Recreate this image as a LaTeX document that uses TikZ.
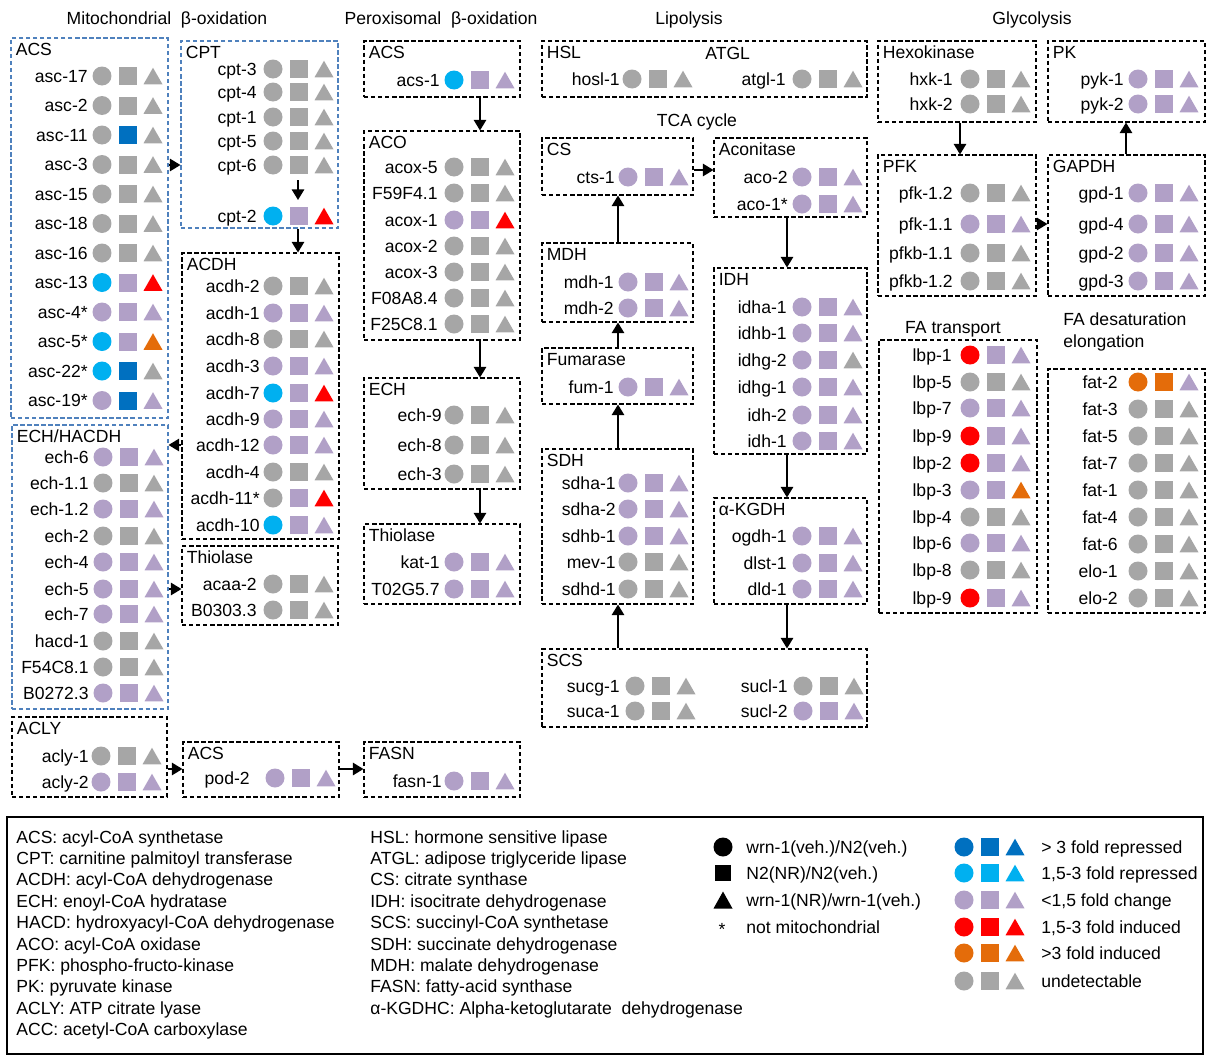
\documentclass[tikz,border=0pt]{standalone}
\usepackage{fontspec}
\setmainfont{Liberation Sans}
\usepackage{tikz}
\usetikzlibrary{arrows.meta, positioning, calc, fit}
\definecolor{gris}{RGB}{166,166,166}
\definecolor{lila}{RGB}{177,160,199}
\definecolor{celeste}{RGB}{0,176,240}
\definecolor{azul}{RGB}{0,112,192}
\definecolor{rojo}{RGB}{255,0,0}
\definecolor{naranja}{RGB}{228,108,10}
\definecolor{azulcaja}{RGB}{79,129,189}
\tikzset{>={Triangle[length=6pt,width=7pt]}}
\tikzset{
  box/.style={draw, dash pattern=on 2.5pt off 1.5pt, line width=0.6pt, inner sep=0pt},
  bluebox/.style={box, draw=azulcaja},
  ttl/.style={anchor=base west, inner sep=0pt},
  glbl/.style={anchor=base east, inner sep=0pt},
  arr/.style={->, line width=1pt},
}
\newcounter{gn}
% symbol columns of a box: circle x, label right end x
\newcommand{\setcol}[2]{\def\symx{#1}\def\labx{#2}}
\newcommand{\symrow}[5]{%
  \begin{scope}[shift={(#1,#2)}]
    \fill[#3] (0,0) circle[radius=0.19cm];
    \fill[#4] (16.5,-9) rectangle (34.5,9);
    \fill[#5] (41.5,8.3) -- (60.5,8.3) -- (51,-8.3) -- cycle;
  \end{scope}}
\newcommand{\gene}[5]{%
  \stepcounter{gn}%
  \node[glbl] (g\arabic{gn}) at (\labx,#1+6) {#2};
  \symrow{\symx}{#1}{#3}{#4}{#5}}
\newcommand{\boxttl}[2]{\node[ttl] (#1-t) at ([shift={(5,18.5)}]#1.north west) {#2};}

\begin{document}
\begin{tikzpicture}[x=0.02cm, y=-0.02cm, font=\fontsize{10}{12.5}\selectfont]
  \useasboundingbox (0,0) rectangle (1210,1055);

  % headers
  \node (hMito) at (167,20) {Mitochondrial~ β-oxidation};
  \node (hPerox) at (441,20) {Peroxisomal~ β-oxidation};
  \node (hLipo) at (689,20) {Lipolysis};
  \node (hGly) at (1032,20) {Glycolysis};
  \node (hTCA) at (697,122) {TCA cycle};
  \node (hFAt) at (953,329) {FA transport};
  \node[anchor=north west, inner sep=0pt, align=left] (hFAd) at (1063,312) {FA desaturation\\elongation};

  % boxes
  \node[bluebox, fit={(11,38) (168,418)}] (acsM) {};
  \node[bluebox, fit={(181,41) (338,228)}] (cpt) {};
  \node[box, fit={(182,253) (339,539)}] (acdh) {};
  \node[box, fit={(182,546) (338,625)}] (thioM) {};
  \node[bluebox, fit={(12,425) (168,709)}] (echM) {};
  \node[box, fit={(12,717) (167,797)}] (acly) {};
  \node[box, fit={(183,742) (339,797)}] (acsF) {};
  \node[box, fit={(364,742) (520,797)}] (fasn) {};
  \node[box, fit={(364,41) (520,97)}] (acsP) {};
  \node[box, fit={(364,131) (520,340)}] (aco) {};
  \node[box, fit={(364,378) (520,489)}] (echP) {};
  \node[box, fit={(364,524) (520,604)}] (thioP) {};
  \node[box, fit={(542,41) (867,97)}] (lipo) {};
  \node[box, fit={(542,138) (693,195)}] (cs) {};
  \node[box, fit={(714,138) (867,217)}] (acon) {};
  \node[box, fit={(542,243) (693,322)}] (mdh) {};
  \node[box, fit={(542,348) (693,404)}] (fum) {};
  \node[box, fit={(542,449) (693,604)}] (sdh) {};
  \node[box, fit={(714,268) (867,454)}] (idh) {};
  \node[box, fit={(714,498) (867,604)}] (kgdh) {};
  \node[box, fit={(542,649) (867,727)}] (scs) {};
  \node[box, fit={(878,41) (1036,122)}] (hxk) {};
  \node[box, fit={(1048,41) (1205,122)}] (pk) {};
  \node[box, fit={(878,155) (1036,296)}] (pfk) {};
  \node[box, fit={(1048,155) (1205,296)}] (gapdh) {};
  \node[box, fit={(879,340) (1037,613)}] (fatr) {};
  \node[box, fit={(1048,369) (1205,613)}] (fades) {};

  \boxttl{acsM}{ACS} \boxttl{cpt}{CPT} \boxttl{acdh}{ACDH}
  \boxttl{thioM}{Thiolase} \boxttl{echM}{ECH/HACDH} \boxttl{acly}{ACLY}
  \boxttl{acsF}{ACS} \boxttl{fasn}{FASN} \boxttl{acsP}{ACS}
  \boxttl{aco}{ACO} \boxttl{echP}{ECH} \boxttl{thioP}{Thiolase}
  \boxttl{lipo}{HSL} \boxttl{cs}{CS} \boxttl{acon}{Aconitase}
  \boxttl{mdh}{MDH} \boxttl{fum}{Fumarase} \boxttl{sdh}{SDH}
  \boxttl{idh}{IDH} \boxttl{kgdh}{α-KGDH} \boxttl{scs}{SCS}
  \boxttl{hxk}{Hexokinase} \boxttl{pk}{PK} \boxttl{pfk}{PFK}
  \boxttl{gapdh}{GAPDH}
  \node[ttl] (lipo-t2) at (705,59.5) {ATGL};

  % mitochondrial beta-oxidation
  \setcol{102}{88}
  \gene{76}{asc-17}{gris}{gris}{gris}
  \gene{105.5}{asc-2}{gris}{gris}{gris}
  \gene{135}{asc-11}{gris}{azul}{gris}
  \gene{164.5}{asc-3}{gris}{gris}{gris}
  \gene{194}{asc-15}{gris}{gris}{gris}
  \gene{223.5}{asc-18}{gris}{gris}{gris}
  \gene{253}{asc-16}{gris}{gris}{gris}
  \gene{282.5}{asc-13}{celeste}{lila}{rojo}
  \gene{312}{asc-4*}{lila}{lila}{lila}
  \gene{341.5}{asc-5*}{celeste}{lila}{naranja}
  \gene{371}{asc-22*}{celeste}{azul}{gris}
  \gene{400.5}{asc-19*}{lila}{azul}{lila}

  \setcol{273}{257}
  \gene{69}{cpt-3}{gris}{gris}{gris}
  \gene{92}{cpt-4}{gris}{gris}{gris}
  \gene{117}{cpt-1}{gris}{gris}{gris}
  \gene{141}{cpt-5}{gris}{gris}{gris}
  \gene{165}{cpt-6}{gris}{gris}{gris}
  \gene{216}{cpt-2}{celeste}{lila}{rojo}

  \setcol{273}{260}
  \gene{286}{acdh-2}{gris}{gris}{gris}
  \gene{313}{acdh-1}{lila}{lila}{lila}
  \gene{339}{acdh-8}{gris}{gris}{gris}
  \gene{366}{acdh-3}{lila}{lila}{lila}
  \gene{393}{acdh-7}{celeste}{lila}{rojo}
  \gene{419}{acdh-9}{lila}{lila}{lila}
  \gene{445}{acdh-12}{lila}{lila}{lila}
  \gene{472}{acdh-4}{gris}{gris}{gris}
  \gene{498}{acdh-11*}{gris}{lila}{rojo}
  \gene{525}{acdh-10}{celeste}{lila}{lila}

  \setcol{273}{257}
  \gene{584}{acaa-2}{gris}{gris}{gris}
  \gene{610}{B0303.3}{gris}{gris}{gris}

  \setcol{103}{89}
  \gene{457}{ech-6}{lila}{lila}{lila}
  \gene{483}{ech-1.1}{gris}{gris}{gris}
  \gene{509}{ech-1.2}{lila}{lila}{lila}
  \gene{536}{ech-2}{gris}{gris}{gris}
  \gene{562}{ech-4}{lila}{lila}{lila}
  \gene{589}{ech-5}{lila}{lila}{lila}
  \gene{614}{ech-7}{lila}{lila}{lila}
  \gene{641}{hacd-1}{gris}{gris}{gris}
  \gene{667}{F54C8.1}{gris}{gris}{gris}
  \gene{693}{B0272.3}{lila}{lila}{lila}

  \setcol{101}{89}
  \gene{756}{acly-1}{gris}{gris}{gris}
  \gene{782}{acly-2}{lila}{lila}{lila}
  \setcol{275}{250}
  \gene{778}{pod-2}{lila}{lila}{lila}
  \setcol{454}{442}
  \gene{781}{fasn-1}{lila}{lila}{lila}

  % peroxisomal beta-oxidation
  \setcol{454}{440}
  \gene{80}{acs-1}{celeste}{lila}{lila}
  \setcol{454}{438}
  \gene{167}{acox-5}{gris}{gris}{gris}
  \gene{193}{F59F4.1}{gris}{gris}{gris}
  \gene{220}{acox-1}{lila}{lila}{rojo}
  \gene{246}{acox-2}{gris}{gris}{gris}
  \gene{272}{acox-3}{gris}{gris}{gris}
  \gene{298}{F08A8.4}{gris}{gris}{gris}
  \gene{324}{F25C8.1}{gris}{gris}{gris}
  \setcol{454}{442}
  \gene{415}{ech-9}{gris}{gris}{gris}
  \gene{445}{ech-8}{gris}{gris}{gris}
  \gene{474}{ech-3}{gris}{gris}{gris}
  \setcol{454}{440}
  \gene{562}{kat-1}{lila}{lila}{lila}
  \gene{589}{T02G5.7}{lila}{lila}{lila}

  % lipolysis and TCA cycle
  \setcol{632}{620}
  \gene{79}{hosl-1}{gris}{gris}{gris}
  \setcol{802}{786}
  \gene{79}{atgl-1}{gris}{gris}{gris}
  \setcol{628}{615}
  \gene{177}{cts-1}{lila}{lila}{lila}
  \setcol{802}{788}
  \gene{177}{aco-2}{lila}{lila}{lila}
  \gene{204}{aco-1*}{lila}{lila}{lila}
  \setcol{628}{614}
  \gene{282}{mdh-1}{lila}{lila}{lila}
  \gene{308}{mdh-2}{lila}{lila}{lila}
  \gene{387}{fum-1}{lila}{lila}{lila}
  \setcol{628}{616}
  \gene{483}{sdha-1}{lila}{lila}{lila}
  \gene{509}{sdha-2}{lila}{lila}{lila}
  \gene{536}{sdhb-1}{lila}{lila}{lila}
  \gene{562}{mev-1}{gris}{gris}{gris}
  \gene{589}{sdhd-1}{gris}{gris}{gris}
  \setcol{802}{787}
  \gene{307}{idha-1}{lila}{lila}{lila}
  \gene{333}{idhb-1}{lila}{lila}{lila}
  \gene{360}{idhg-2}{lila}{lila}{gris}
  \gene{387}{idhg-1}{lila}{lila}{lila}
  \gene{415}{idh-2}{lila}{lila}{lila}
  \gene{441}{idh-1}{lila}{lila}{lila}
  \gene{536}{ogdh-1}{lila}{lila}{lila}
  \gene{563}{dlst-1}{lila}{lila}{lila}
  \gene{589}{dld-1}{lila}{lila}{lila}
  \setcol{635}{620}
  \gene{686}{sucg-1}{gris}{gris}{gris}
  \gene{711}{suca-1}{gris}{gris}{gris}
  \setcol{803}{788}
  \gene{686}{sucl-1}{gris}{gris}{gris}
  \gene{711}{sucl-2}{lila}{lila}{lila}

  % glycolysis and FA
  \setcol{970}{953}
  \gene{79}{hxk-1}{gris}{gris}{gris}
  \gene{104}{hxk-2}{gris}{gris}{gris}
  \gene{193}{pfk-1.2}{gris}{gris}{gris}
  \gene{224}{pfk-1.1}{lila}{lila}{lila}
  \gene{253}{pfkb-1.1}{gris}{gris}{gris}
  \gene{281}{pfkb-1.2}{gris}{gris}{gris}
  \setcol{1138}{1124}
  \gene{79}{pyk-1}{lila}{lila}{lila}
  \gene{104}{pyk-2}{lila}{lila}{lila}
  \gene{193}{gpd-1}{lila}{lila}{lila}
  \gene{224}{gpd-4}{lila}{lila}{lila}
  \gene{253}{gpd-2}{lila}{lila}{lila}
  \gene{281}{gpd-3}{lila}{lila}{lila}
  \setcol{970}{952}
  \gene{355}{lbp-1}{rojo}{lila}{lila}
  \gene{382}{lbp-5}{gris}{gris}{gris}
  \gene{408}{lbp-7}{lila}{lila}{lila}
  \gene{436}{lbp-9}{rojo}{lila}{lila}
  \gene{463}{lbp-2}{rojo}{lila}{lila}
  \gene{490}{lbp-3}{lila}{lila}{naranja}
  \gene{517}{lbp-4}{gris}{gris}{gris}
  \gene{543}{lbp-6}{lila}{lila}{lila}
  \gene{570}{lbp-8}{gris}{gris}{gris}
  \gene{598}{lbp-9}{rojo}{lila}{lila}
  \setcol{1138}{1118}
  \gene{382}{fat-2}{naranja}{naranja}{lila}
  \gene{409}{fat-3}{gris}{gris}{gris}
  \gene{436}{fat-5}{gris}{gris}{gris}
  \gene{463}{fat-7}{gris}{gris}{gris}
  \gene{490}{fat-1}{gris}{gris}{gris}
  \gene{517}{fat-4}{gris}{gris}{gris}
  \gene{544}{fat-6}{gris}{gris}{gris}
  \gene{571}{elo-1}{gris}{gris}{gris}
  \gene{598}{elo-2}{gris}{gris}{gris}

  % arrows
  \coordinate (cptA) at (298,180);
  \coordinate (cptB) at (298,200);
  \draw[arr] (acsM.east |- 0,165) -- (cpt.west |- 0,165);
  \draw[arr] (cptA) -- (cptB);
  \draw[arr] (cpt.south -| 298,0) -- (acdh.north -| 298,0);
  \draw[arr] (acdh.west |- 0,445) -- (echM.east |- 0,445);
  \draw[arr] (echM.east |- 0,589) -- (thioM.west |- 0,589);
  \draw[arr] (acly.east |- 0,769) -- (acsF.west |- 0,769);
  \draw[arr] (acsF.east |- 0,769) -- (fasn.west |- 0,769);
  \draw[arr] (acsP.south -| 480,0) -- (aco.north -| 480,0);
  \draw[arr] (aco.south -| 480,0) -- (echP.north -| 480,0);
  \draw[arr] (echP.south -| 480,0) -- (thioP.north -| 480,0);
  \draw[arr] (cs.east |- 0,170) -- (acon.west |- 0,170);
  \draw[arr] (acon.south -| 787,0) -- (idh.north -| 787,0);
  \draw[arr] (idh.south -| 787,0) -- (kgdh.north -| 787,0);
  \draw[arr] (kgdh.south -| 787,0) -- (scs.north -| 787,0);
  \draw[arr] (scs.north -| 618,0) -- (sdh.south -| 618,0);
  \draw[arr] (sdh.north -| 618,0) -- (fum.south -| 618,0);
  \draw[arr] (fum.north -| 618,0) -- (mdh.south -| 618,0);
  \draw[arr] (mdh.north -| 618,0) -- (cs.south -| 618,0);
  \draw[arr] (hxk.south -| 960,0) -- (pfk.north -| 960,0);
  \draw[arr] (pfk.east |- 0,224) -- (gapdh.west |- 0,224);
  \draw[arr] (gapdh.north -| 1126,0) -- (pk.south -| 1126,0);

  % legend
  \node[draw, line width=0.7pt, inner sep=0pt, fit={(7,817) (1203,1054)}] (legend) {};
  \node[ttl] (lg1) at (16,843) {ACS: acyl-CoA synthetase};
  \node[ttl] (lg2) at (16,864.4) {CPT: carnitine palmitoyl transferase};
  \node[ttl] (lg3) at (16,885.8) {ACDH: acyl-CoA dehydrogenase};
  \node[ttl] (lg4) at (16,907.2) {ECH: enoyl-CoA hydratase};
  \node[ttl] (lg5) at (16,928.6) {HACD: hydroxyacyl-CoA dehydrogenase};
  \node[ttl] (lg6) at (16,950) {ACO: acyl-CoA oxidase};
  \node[ttl] (lg7) at (16,971.4) {PFK: phospho-fructo-kinase};
  \node[ttl] (lg8) at (16,992.8) {PK: pyruvate kinase};
  \node[ttl] (lg9) at (16,1014.2) {ACLY: ATP citrate lyase};
  \node[ttl] (lg10) at (16,1035.6) {ACC: acetyl-CoA carboxylase};
  \node[ttl] (lm1) at (370,843) {HSL: hormone sensitive lipase};
  \node[ttl] (lm2) at (370,864.4) {ATGL: adipose triglyceride lipase};
  \node[ttl] (lm3) at (370,885.8) {CS: citrate synthase};
  \node[ttl] (lm4) at (370,907.2) {IDH: isocitrate dehydrogenase};
  \node[ttl] (lm5) at (370,928.6) {SCS: succinyl-CoA synthetase};
  \node[ttl] (lm6) at (370,950) {SDH: succinate dehydrogenase};
  \node[ttl] (lm7) at (370,971.4) {MDH: malate dehydrogenase};
  \node[ttl] (lm8) at (370,992.8) {FASN: fatty-acid synthase};
  \node[ttl] (lm9) at (370,1014.2) {α-KGDHC: Alpha-ketoglutarate~ dehydrogenase};

  \fill (723,847) circle[radius=0.19cm];
  \fill (715,865) rectangle (731,881);
  \fill (713.5,908.5) -- (732.5,908.5) -- (723,891.5) -- cycle;
  \node (ls) at (722,929) {*};
  \node[ttl] (lr1) at (746,853) {wrn-1(veh.)/N2(veh.)};
  \node[ttl] (lr2) at (746,879) {N2(NR)/N2(veh.)};
  \node[ttl] (lr3) at (746,906) {wrn-1(NR)/wrn-1(veh.)};
  \node[ttl] (lr4) at (746,933) {not mitochondrial};

  \symrow{964}{847}{azul}{azul}{azul}
  \symrow{964}{873}{celeste}{celeste}{celeste}
  \symrow{964}{900}{lila}{lila}{lila}
  \symrow{964}{927}{rojo}{rojo}{rojo}
  \symrow{964}{953}{naranja}{naranja}{naranja}
  \symrow{964}{981}{gris}{gris}{gris}
  \node[ttl] (lc1) at (1041,853) {> 3 fold repressed};
  \node[ttl] (lc2) at (1041,879) {1,5-3 fold repressed};
  \node[ttl] (lc3) at (1041,906) {<1,5 fold change};
  \node[ttl] (lc4) at (1041,933) {1,5-3 fold induced};
  \node[ttl] (lc5) at (1041,959) {>3 fold induced};
  \node[ttl] (lc6) at (1041,987) {undetectable};
\end{tikzpicture}
\end{document}
